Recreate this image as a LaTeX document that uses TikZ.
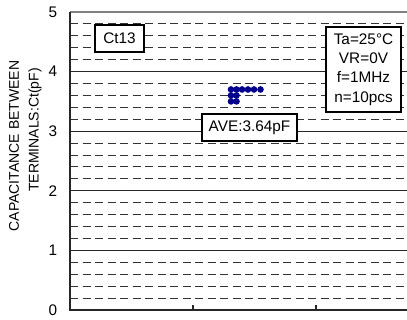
\documentclass[tikz,border=0pt]{standalone}
\usepackage{fontspec}
\setmainfont{Liberation Sans}
\definecolor{dotblue}{RGB}{0,0,140}
\begin{document}
\begin{tikzpicture}[x=0.75pt,y=-0.75pt,
  minorgrid/.style={black!80, line width=0.75pt, dash pattern=on 6pt off 3.4pt},
  majorgrid/.style={black!85, line width=0.9pt},
  axisline/.style={black!85, line width=1.4pt},
  ticklbl/.style={font=\fontsize{11.5}{13}\selectfont, inner sep=0pt},
  ylbl/.style={font=\fontsize{10.5}{12}\selectfont, inner sep=0pt, rotate=90},
  boxnode/.style={draw=black, line width=1pt, fill=white, inner sep=0pt,
    font=\fontsize{11.5}{14.4}\selectfont, align=center},
  dotmark/.style={fill=dotblue}]
\useasboundingbox (0,0) rectangle (407,320);
% minor dashed grid
\foreach \i in {0,...,4}{
  \foreach \j in {1,...,4}{
    \draw[minorgrid] (70,{310-(\i+\j/5)*59.6}) -- (407,{310-(\i+\j/5)*59.6});
  }
}
% major grid
\foreach \i in {1,...,4}{
  \draw[majorgrid] (70,{310-\i*59.6}) -- (407,{310-\i*59.6});
}
% top border
\draw[gray, line width=1.4pt] (70,12) -- (407,12);
% axes
\draw[axisline] (70,12) -- (70,310) -- (407,310);
\draw[black!85, line width=0.8pt] (193,310) -- (193,305);
\draw[black!85, line width=0.8pt] (316,310) -- (316,305);
% tick labels
\foreach \i in {0,...,5}{
  \node[ticklbl] (t\i) at (53,{310-\i*59.6}) {\i};
}
% axis label
\node[ylbl] (yl1) at (14,146) {CAPACITANCE BETWEEN};
\node[ylbl] (yl2) at (35,130) {TERMINALS:Ct(pF)};
% data dots
\foreach \x in {231,236.5,242,248,254,260.5}{
  \fill[dotmark] (\x,{310-3.7*59.6}) circle (2.5pt);
}
\foreach \x in {231,236.5}{
  \fill[dotmark] (\x,{310-3.6*59.6}) circle (2.5pt);
  \fill[dotmark] (\x,{310-3.5*59.6}) circle (2.5pt);
}
% annotation boxes
\node[boxnode, minimum width=36.75pt, minimum height=20.25pt] (ct) at (119.5,38.5) {Ct13};
\node[boxnode, minimum width=71.25pt, minimum height=20.25pt] (ave) at (249.5,127.5) {AVE:3.64pF};
\node[boxnode, minimum width=56.25pt, minimum height=63.75pt] (cond) at (363.5,69.5)
  {Ta=25°C\\VR=0V\\f=1MHz\\n=10pcs};
\end{tikzpicture}
\end{document}
